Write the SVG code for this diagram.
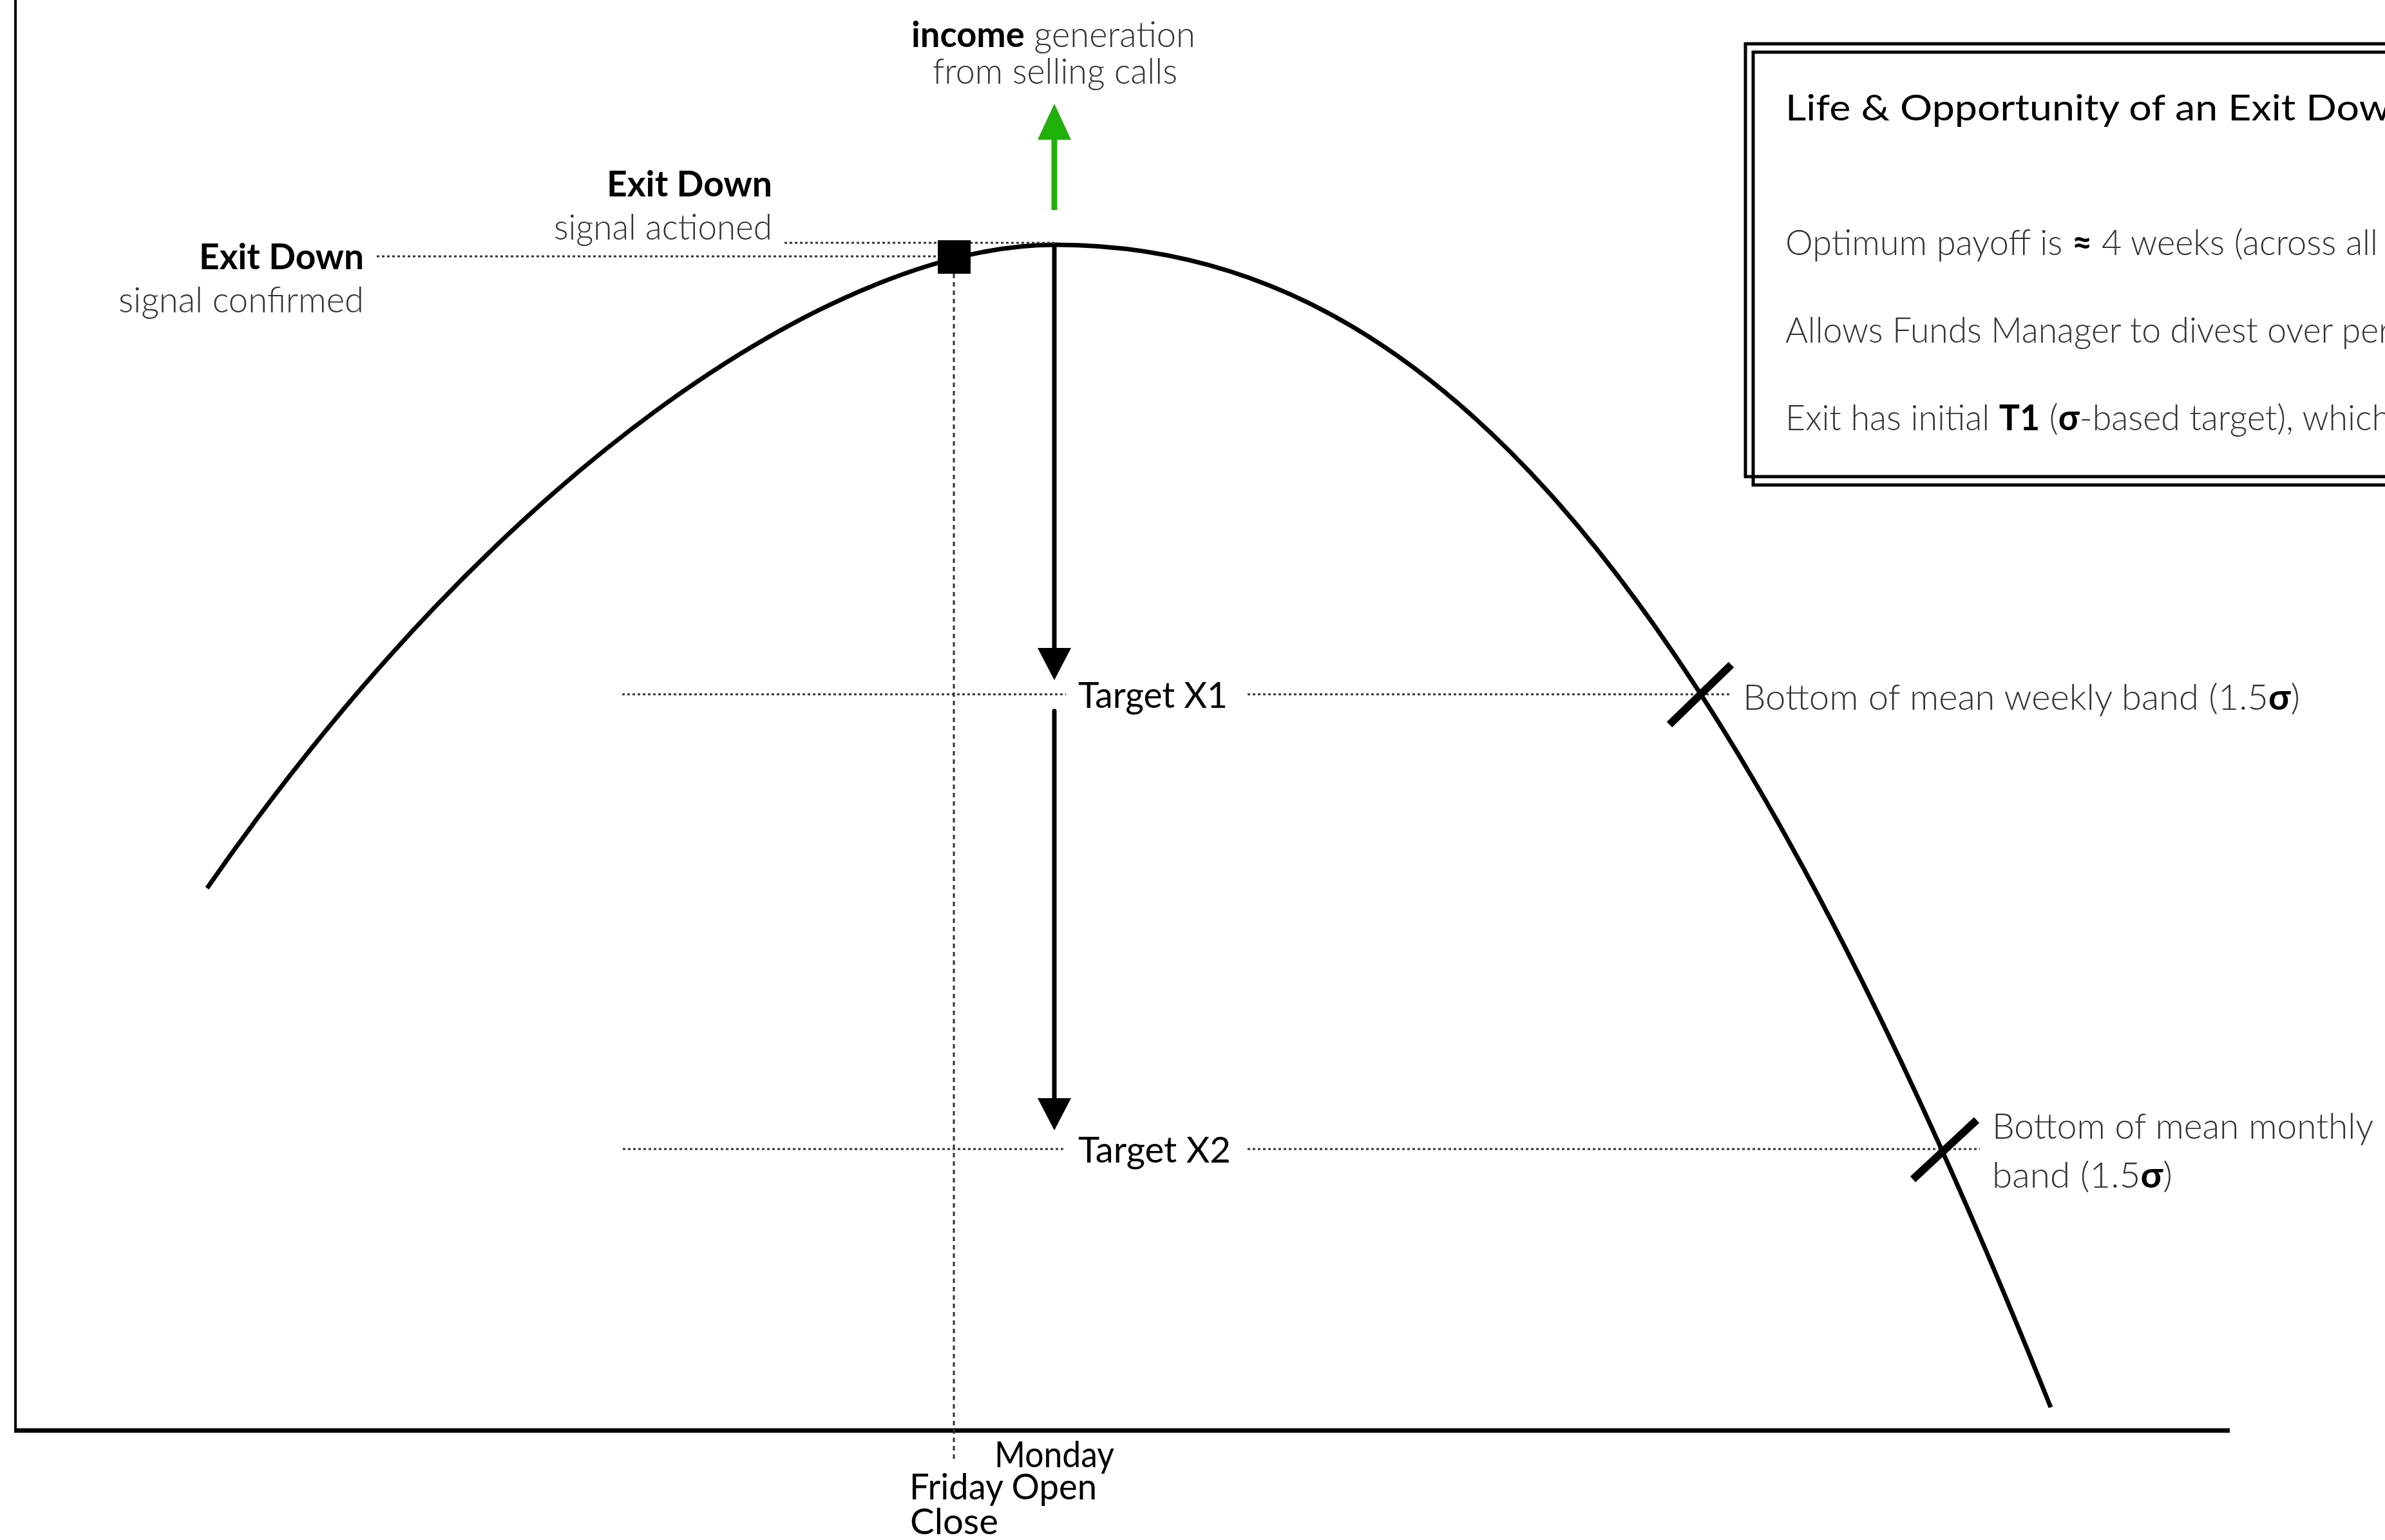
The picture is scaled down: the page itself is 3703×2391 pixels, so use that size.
<svg xmlns="http://www.w3.org/2000/svg" width="3703" height="2391" viewBox="0 0 3703 2391">
<style>
text{font-family:Lato,"Open Sans","Liberation Sans",sans-serif;font-size:56px;}
.lt{font-weight:300;fill:#333;}
.md{font-weight:400;fill:#000;}
.bd{font-weight:700;fill:#000;}
.dot{stroke:#333;stroke-width:3;stroke-dasharray:4 4;fill:none;}
.vdot{stroke:#333;stroke-width:3;stroke-dasharray:7 6;fill:none;}
.axis{stroke:#000;fill:none;}
.tick{stroke:#000;stroke-width:12;}
.box{fill:none;stroke:#000;stroke-width:5;}
</style>
<defs>
<marker id="ah" markerUnits="userSpaceOnUse" markerWidth="50" markerHeight="52" viewBox="0 0 50 52" refX="0" refY="26" orient="auto">
<path d="M0,0 L50,26 L0,52 z" fill="#000"/>
</marker>
<marker id="ahg" markerUnits="userSpaceOnUse" markerWidth="56" markerHeight="52" viewBox="0 0 56 52" refX="0" refY="26" orient="auto">
<path d="M0,0 L56,26 L0,52 z" fill="#21b10b"/>
</marker>
</defs>
<rect width="3703" height="2391" fill="#fff"/>
<g id="axes">
<line class="axis" x1="24" y1="0" x2="24" y2="2221" stroke-width="4"/>
<line class="axis" x1="22" y1="2221" x2="3462" y2="2221" stroke-width="7"/>
</g>
<g id="curve">
<path d="M321.5,1379 C783.8,713 1308,380 1638,380 C2196,380 2650,850 3184,2185" fill="none" stroke="#000" stroke-width="7"/>
</g>
<g id="connectors">
<line class="dot" x1="1218" y1="377" x2="1637" y2="377"/>
<line class="dot" x1="585" y1="398" x2="1456" y2="398"/>
<line class="vdot" x1="1481" y1="425" x2="1481" y2="2266"/>
<line class="dot" x1="966" y1="1078" x2="1655" y2="1078"/>
<line class="dot" x1="1937" y1="1078" x2="2687" y2="1078"/>
<line class="dot" x1="967" y1="1784" x2="1655" y2="1784"/>
<line class="dot" x1="1937" y1="1784" x2="3074" y2="1784"/>
<line x1="1637" y1="380" x2="1637" y2="1006" stroke="#000" stroke-width="7" marker-end="url(#ah)"/>
<line x1="1637" y1="1104" x2="1637" y2="1705" stroke="#000" stroke-width="7" stroke-linecap="round" marker-end="url(#ah)"/>
<line x1="1637" y1="326" x2="1637" y2="217" stroke="#21b10b" stroke-width="9" marker-end="url(#ahg)"/>
</g>
<g id="signal-square">
<rect x="1456" y="373" width="51" height="52" fill="#000"/>
</g>
<g id="ticks">
<line class="tick" x1="2592" y1="1125" x2="2688" y2="1032"/>
<line class="tick" x1="2970" y1="1831" x2="3069" y2="1739"/>
</g>
<g id="income-label">
<text class="lt" x="1415" y="73" textLength="441" lengthAdjust="spacingAndGlyphs"><tspan class="bd">income</tspan> generation</text>
<text class="lt" x="1448" y="130" textLength="380" lengthAdjust="spacingAndGlyphs">from selling calls</text>
</g>
<g id="exit-actioned">
<text class="bd" x="942" y="305" textLength="257" lengthAdjust="spacingAndGlyphs">Exit Down</text>
<text class="lt" x="860" y="372" textLength="339" lengthAdjust="spacingAndGlyphs">signal actioned</text>
</g>
<g id="exit-confirmed">
<text class="bd" x="309" y="418" textLength="256" lengthAdjust="spacingAndGlyphs">Exit Down</text>
<text class="lt" x="184" y="485" textLength="381" lengthAdjust="spacingAndGlyphs">signal confirmed</text>
</g>
<g id="target-x1">
<text class="md" x="1674" y="1099" textLength="232" lengthAdjust="spacingAndGlyphs">Target X1</text>
</g>
<g id="target-x2">
<text class="md" x="1674" y="1805" textLength="237" lengthAdjust="spacingAndGlyphs">Target X2</text>
</g>
<g id="weekly-band">
<text class="lt" x="2706" y="1102" textLength="865" lengthAdjust="spacingAndGlyphs">Bottom of mean weekly band (1.5<tspan class="bd">σ</tspan>)</text>
</g>
<g id="monthly-band">
<text class="lt" x="3093" y="1768" textLength="592" lengthAdjust="spacingAndGlyphs">Bottom of mean monthly</text>
<text class="lt" x="3093" y="1844" textLength="280" lengthAdjust="spacingAndGlyphs">band (1.5<tspan class="bd">σ</tspan>)</text>
</g>
<g id="time-labels">
<text class="md" x="1544" y="2278" textLength="186" lengthAdjust="spacingAndGlyphs">Monday</text>
<text class="md" x="1412" y="2328" textLength="291" lengthAdjust="spacingAndGlyphs">Friday Open</text>
<text class="md" x="1413" y="2382" textLength="137" lengthAdjust="spacingAndGlyphs">Close</text>
</g>
<g id="info-box">
<rect class="box" x="2710" y="68" width="1100" height="672"/>
<rect class="box" x="2722" y="81" width="1100" height="672"/>
<text class="md" x="2772" y="187" textLength="940" lengthAdjust="spacingAndGlyphs">Life &amp; Opportunity of an Exit Dow</text>
<text class="lt" x="2772" y="396" textLength="920" lengthAdjust="spacingAndGlyphs">Optimum payoff is <tspan class="bd">≈</tspan> 4 weeks (across all</text>
<text class="lt" x="2772" y="532" textLength="940" lengthAdjust="spacingAndGlyphs">Allows Funds Manager to divest over per</text>
<text class="lt" x="2772" y="668" textLength="940" lengthAdjust="spacingAndGlyphs">Exit has initial <tspan class="bd">T1</tspan> (<tspan class="bd">σ</tspan>-based target), which</text>
</g>
</svg>
